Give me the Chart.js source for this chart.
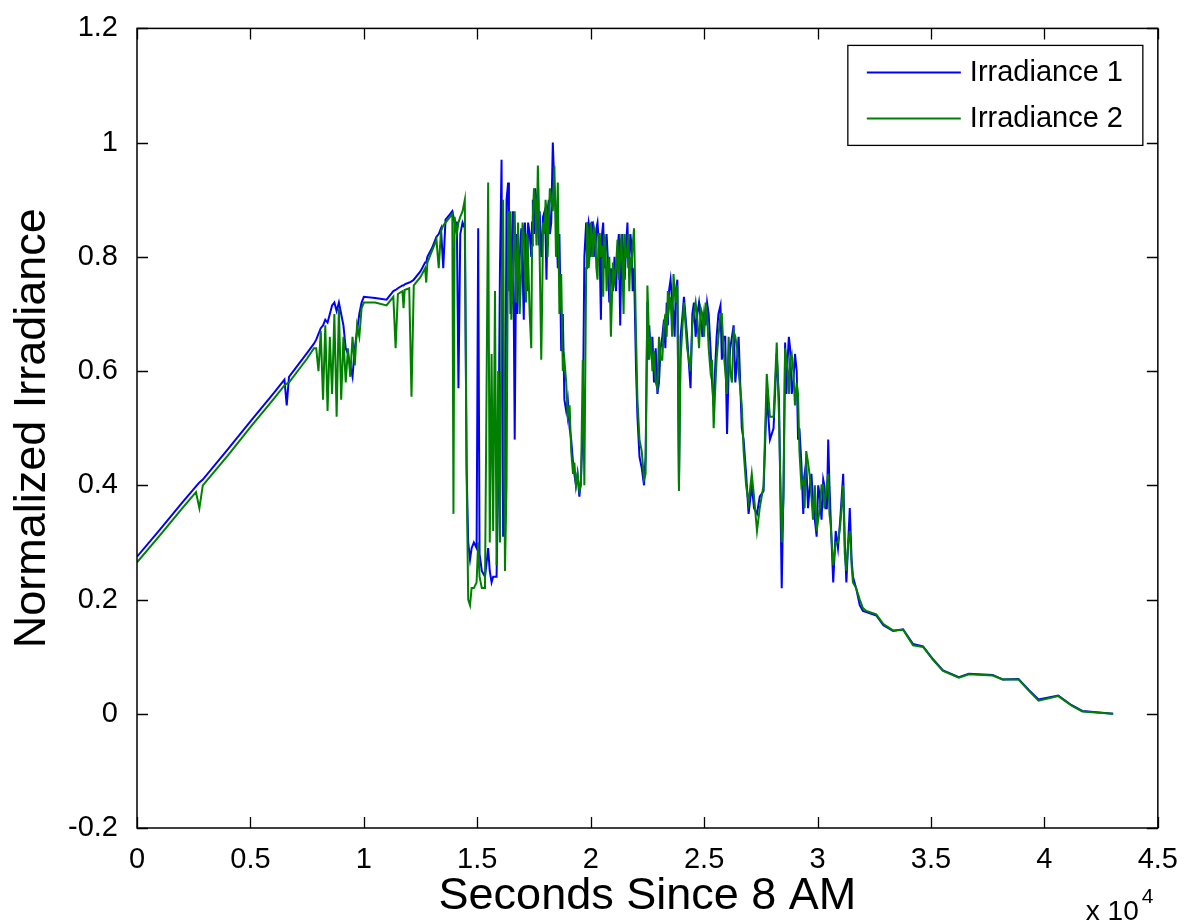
<!DOCTYPE html>
<html>
<head>
<meta charset="utf-8">
<script src="https://cdn.jsdelivr.net/npm/chart.js@4.4.0/dist/chart.umd.min.js"></script>
<style>
  html, body { margin: 0; padding: 0; background: #fff; }
  #wrap { width: 1185px; height: 924px; position: relative; }
</style>
</head>
<body>
<div id="wrap"><canvas id="graf"></canvas></div>
<script>
// tempo em segundos desde as 8h
var seconds = [
  0, 1000, 2000, 2600, 2750, 2900, 4000, 5000, 6000, 6500, 6600, 6700, 7500, 7800,
  7900, 8000, 8100, 8200, 8300, 8400, 8500, 8600, 8700, 8800, 8900, 9000, 9100, 9200, 9300, 9400, 9500, 9600, 9700, 9800, 9900, 10000,
  10500, 11000, 11300, 11400, 11500, 11700, 11750, 11800, 12000, 12100, 12200, 12500, 12700, 12750, 12800, 13000, 13200, 13300, 13400, 13500, 13600, 13800,
  13900, 13950, 14000, 14100, 14170, 14250, 14350, 14450, 14530, 14600,
  14680, 14750, 14850, 14970, 15040, 15100, 15200, 15340, 15480, 15550,
  15630, 15700, 15780, 15850, 15920, 16000, 16070, 16140, 16220, 16290,
  16360, 16395, 16430, 16465, 16500, 16575, 16650, 16720, 16760, 16800,
  16870, 16940, 16995, 17050, 17100, 17150, 17195, 17240, 17310, 17380,
  17415, 17450, 17500, 17550, 17610, 17670, 17710, 17750, 17820, 17860,
  17900, 17970, 18010, 18050, 18100, 18150, 18200, 18260, 18330, 18400,
  18470, 18550, 18620, 18700, 18770, 18840, 18920, 18990, 19070, 19140,
  19220, 19280, 19350, 19420, 19500, 19570, 19650, 19720, 19800, 19835,
  19870, 19910, 19950, 20000, 20050, 20100, 20150, 20200, 20250, 20300,
  20350, 20400, 20450, 20500, 20550, 20600, 20650, 20700, 20750, 20820,
  20890, 20980, 21050, 21115, 21180, 21240, 21300, 21350, 21400, 21450,
  21500, 21560, 21620, 21660, 21700, 21750, 21800, 21850, 21910, 22000,
  22060, 22150, 22250, 22350, 22420, 22500, 22540, 22580, 22650, 22720,
  22790, 22865, 22940, 23010, 23080, 23155, 23230, 23290, 23350, 23400,
  23450, 23520, 23590, 23650, 23700, 23750, 23820, 23890, 23960, 24050,
  24110, 24250, 24400, 24480, 24550, 24625, 24700, 24775, 24850, 24925,
  25000, 25065, 25130, 25200, 25280, 25350, 25420, 25480, 25550, 25630,
  25720, 25780, 25850, 25930, 26010, 26080, 26150, 26225, 26300, 26375,
  26450, 26520, 26590, 26660, 26740, 26850, 26960, 27100, 27200, 27330,
  27450, 27620, 27760, 27900, 28060, 28200, 28300, 28420, 28500, 28570,
  28625, 28680, 28735, 28790, 28860, 28930, 29005, 29080, 29140, 29200,
  29285, 29370, 29430, 29500, 29580, 29660, 29730, 29800, 29880, 29960,
  30030, 30100, 30175, 30250, 30300, 30350, 30410, 30470, 30525, 30580,
  30690, 30800, 30900, 31000, 31130, 31200, 31270, 31350, 31420, 31500,
  31560, 31700, 31860, 32000,
  32150, 32590, 32900, 33330, 33770, 34210, 34650, 35100, 35530, 36230,
  36670, 37720, 38160, 38860, 39300, 39740, 40610, 41200, 41670, 43030
];

var irradiance1 = [
  0.275, 0.322, 0.37, 0.398, 0.405, 0.41, 0.463, 0.512, 0.56, 0.585, 0.54, 0.59, 0.632, 0.648,
  0.655, 0.665, 0.675, 0.68, 0.69, 0.685, 0.70, 0.715, 0.72, 0.705, 0.72, 0.70, 0.68, 0.64, 0.63, 0.61, 0.59, 0.64, 0.67, 0.70, 0.72, 0.73,
  0.728, 0.725, 0.74, 0.742, 0.745, 0.75, 0.75, 0.752, 0.755, 0.757, 0.76, 0.775, 0.79, 0.79, 0.80, 0.815, 0.835, 0.84, 0.85, 0.78, 0.865, 0.875,
  0.88, 0.87, 0.86, 0.86, 0.57, 0.84, 0.86, 0.85, 0.43, 0.30,
  0.27, 0.29, 0.30, 0.29, 0.85, 0.28, 0.25, 0.24, 0.29, 0.25,
  0.23, 0.24, 0.24, 0.24, 0.40, 0.78, 0.97, 0.31, 0.35, 0.90,
  0.93, 0.86, 0.85, 0.70, 0.80, 0.88, 0.48, 0.84, 0.70, 0.75,
  0.80, 0.85, 0.78, 0.69, 0.86, 0.82, 0.74, 0.86, 0.84, 0.80,
  0.86, 0.90, 0.84, 0.92, 0.90, 0.86, 0.82, 0.88, 0.80, 0.82,
  0.87, 0.88, 0.84, 0.76, 0.88, 0.90, 0.84, 0.86, 1.00, 0.92,
  0.88, 0.78, 0.84, 0.635, 0.70, 0.55, 0.53, 0.55, 0.50, 0.48,
  0.44, 0.42, 0.40, 0.42, 0.38, 0.41, 0.50, 0.80, 0.86, 0.80,
  0.84, 0.86, 0.85, 0.80, 0.86, 0.86, 0.82, 0.80, 0.85, 0.86,
  0.83, 0.80, 0.69, 0.84, 0.86, 0.78, 0.82, 0.84, 0.80, 0.72,
  0.78, 0.74, 0.80, 0.74, 0.81, 0.84, 0.68, 0.80, 0.84, 0.78,
  0.76, 0.82, 0.86, 0.78, 0.80, 0.84, 0.82, 0.74, 0.78, 0.60,
  0.52, 0.45, 0.43, 0.40, 0.45, 0.72, 0.62, 0.68, 0.63, 0.66,
  0.58, 0.64, 0.56, 0.58, 0.64, 0.66, 0.69, 0.64, 0.72, 0.68,
  0.74, 0.76, 0.72, 0.70, 0.66, 0.74, 0.76, 0.40, 0.66, 0.70,
  0.73, 0.66, 0.57, 0.70, 0.72, 0.66, 0.70, 0.72, 0.69, 0.66,
  0.70, 0.68, 0.72, 0.70, 0.64, 0.58, 0.54, 0.60, 0.66, 0.70,
  0.715, 0.62, 0.66, 0.66, 0.49, 0.60, 0.64, 0.66, 0.68, 0.58,
  0.62, 0.66, 0.58, 0.50, 0.48, 0.42, 0.35, 0.40, 0.36, 0.35,
  0.38, 0.39, 0.56, 0.48, 0.50, 0.63, 0.55, 0.22, 0.40, 0.65,
  0.56, 0.62, 0.66, 0.64, 0.56, 0.58, 0.63, 0.60, 0.48, 0.50,
  0.44, 0.35, 0.42, 0.44, 0.36, 0.40, 0.42, 0.37, 0.34, 0.31,
  0.40, 0.38, 0.34, 0.41, 0.40, 0.36, 0.36, 0.48, 0.40, 0.34,
  0.23, 0.32, 0.29, 0.34, 0.42, 0.30, 0.23, 0.30, 0.36, 0.27,
  0.24, 0.22, 0.19, 0.18,
  0.178, 0.172, 0.155, 0.145, 0.148, 0.122, 0.118, 0.095, 0.076, 0.064,
  0.07, 0.068, 0.06, 0.061, 0.042, 0.025, 0.032, 0.015, 0.005, 0.0
];

var irradiance2 = [
  0.265, 0.312, 0.36, 0.388, 0.36, 0.40, 0.452, 0.502, 0.55, 0.575, 0.578, 0.58, 0.622, 0.64,
  0.64, 0.60, 0.67, 0.55, 0.68, 0.53, 0.66, 0.56, 0.70, 0.52, 0.71, 0.55, 0.66, 0.58, 0.64, 0.59, 0.66, 0.61, 0.68, 0.66, 0.71, 0.72,
  0.72, 0.715, 0.73, 0.64, 0.735, 0.74, 0.71, 0.742, 0.745, 0.555, 0.75, 0.765, 0.78, 0.755, 0.79, 0.81, 0.83, 0.78, 0.845, 0.855, 0.86, 0.87,
  0.875, 0.35, 0.87, 0.84, 0.86, 0.87, 0.88, 0.90, 0.42, 0.20,
  0.19, 0.22, 0.22, 0.23, 0.30, 0.24, 0.22, 0.22, 0.93, 0.30,
  0.63, 0.32, 0.74, 0.26, 0.60, 0.30, 0.72, 0.90, 0.25, 0.40,
  0.88, 0.74, 0.84, 0.88, 0.69, 0.76, 0.88, 0.72, 0.78, 0.86,
  0.70, 0.78, 0.86, 0.84, 0.76, 0.72, 0.84, 0.80, 0.70, 0.64,
  0.82, 0.87, 0.92, 0.90, 0.82, 0.96, 0.90, 0.80, 0.62, 0.72,
  0.86, 0.84, 0.90, 0.88, 0.80, 0.86, 0.92, 0.90, 0.88, 0.96,
  0.80, 0.93, 0.70, 0.77, 0.60, 0.62, 0.58, 0.52, 0.54, 0.46,
  0.42, 0.44, 0.40, 0.42, 0.39, 0.40, 0.62, 0.40, 0.78, 0.86,
  0.85, 0.78, 0.80, 0.86, 0.84, 0.80, 0.85, 0.84, 0.78, 0.76,
  0.84, 0.84, 0.80, 0.82, 0.73, 0.84, 0.82, 0.74, 0.78, 0.80,
  0.66, 0.79, 0.76, 0.78, 0.83, 0.76, 0.80, 0.84, 0.78, 0.70,
  0.84, 0.80, 0.80, 0.84, 0.74, 0.80, 0.78, 0.82, 0.85, 0.66,
  0.55, 0.48, 0.46, 0.41, 0.42, 0.75, 0.70, 0.62, 0.66, 0.60,
  0.635, 0.58, 0.57, 0.66, 0.62, 0.62, 0.68, 0.70, 0.66, 0.74,
  0.71, 0.73, 0.66, 0.77, 0.74, 0.72, 0.75, 0.39, 0.62, 0.68,
  0.72, 0.64, 0.60, 0.68, 0.70, 0.72, 0.69, 0.64, 0.71, 0.70,
  0.66, 0.72, 0.70, 0.64, 0.60, 0.62, 0.50, 0.56, 0.62, 0.66,
  0.70, 0.70, 0.64, 0.60, 0.56, 0.66, 0.60, 0.58, 0.67, 0.66,
  0.64, 0.60, 0.57, 0.54, 0.46, 0.40, 0.37, 0.42, 0.38, 0.32,
  0.36, 0.40, 0.595, 0.52, 0.52, 0.65, 0.52, 0.30, 0.38, 0.64,
  0.62, 0.60, 0.56, 0.62, 0.63, 0.60, 0.54, 0.58, 0.56, 0.46,
  0.40, 0.41, 0.36, 0.46, 0.44, 0.415, 0.38, 0.34, 0.40, 0.32,
  0.34, 0.36, 0.40, 0.40, 0.36, 0.38, 0.40, 0.42, 0.35, 0.33,
  0.26, 0.30, 0.30, 0.33, 0.40, 0.28, 0.25, 0.30, 0.32, 0.26,
  0.23, 0.22, 0.20, 0.185,
  0.18, 0.174, 0.157, 0.146, 0.147, 0.12, 0.117, 0.094, 0.075, 0.063,
  0.069, 0.067, 0.06, 0.06, 0.041, 0.023, 0.031, 0.014, 0.004, 0.0
];

var seriesNames = ['Irradiance 1', 'Irradiance 2'];
var xTickLabels = ['0', '0.5', '1', '1.5', '2', '2.5', '3', '3.5', '4', '4.5'];
var yTickLabels = ['-0.2', '0', '0.2', '0.4', '0.6', '0.8', '1', '1.2'];

var fonte = "'Liberation Sans', Arial, sans-serif";

function pontos(valores) {
  var out = [];
  for (var i = 0; i < seconds.length; i++) {
    out.push({ x: seconds[i], y: valores[i] });
  }
  return out;
}

// caixa do eixo, ticks para dentro, legenda e "x 10^4" no estilo matlab
var caixaMatlab = {
  id: 'caixaMatlab',
  afterDatasetsDraw: function (chart) {
    var ctx = chart.ctx;
    var a = chart.chartArea;
    var xs = chart.scales.x;
    var ys = chart.scales.y;
    ctx.save();
    ctx.strokeStyle = '#000';
    ctx.lineWidth = 1.5;
    ctx.strokeRect(a.left, a.top, a.right - a.left, a.bottom - a.top);

    ctx.beginPath();
    xs.ticks.forEach(function (t) {
      var px = Math.round(xs.getPixelForValue(t.value)) + 0.5;
      ctx.moveTo(px, a.bottom); ctx.lineTo(px, a.bottom - 11);
      ctx.moveTo(px, a.top); ctx.lineTo(px, a.top + 11);
    });
    ys.ticks.forEach(function (t) {
      var py = Math.round(ys.getPixelForValue(t.value)) + 0.5;
      ctx.moveTo(a.left, py); ctx.lineTo(a.left + 11, py);
      ctx.moveTo(a.right, py); ctx.lineTo(a.right - 11, py);
    });
    ctx.lineWidth = 1.3;
    ctx.stroke();

    // expoente do eixo x
    ctx.fillStyle = '#000';
    ctx.textBaseline = 'alphabetic';
    ctx.textAlign = 'left';
    ctx.font = '28px ' + fonte;
    ctx.fillText('x 10', a.right - 72, a.bottom + 92);
    ctx.font = '21px ' + fonte;
    ctx.fillText('4', a.right - 16, a.bottom + 75);

    // legenda
    var lx = a.right - 310, ly = a.top + 17, lw = 295, lh = 100;
    ctx.fillStyle = '#fff';
    ctx.fillRect(lx, ly, lw, lh);
    ctx.lineWidth = 1.3;
    ctx.strokeRect(lx, ly, lw, lh);
    ctx.font = '29px ' + fonte;
    ctx.textBaseline = 'middle';
    chart.data.datasets.forEach(function (ds, i) {
      var yy = ly + 27 + i * 46;
      ctx.strokeStyle = ds.borderColor;
      ctx.lineWidth = 2;
      ctx.beginPath();
      ctx.moveTo(lx + 19, yy);
      ctx.lineTo(lx + 113, yy);
      ctx.stroke();
      ctx.fillStyle = '#000';
      ctx.fillText(ds.label, lx + 122, yy + 1);
    });
    ctx.restore();
  }
};

var graf = new Chart(document.getElementById('graf'), {
  type: 'line',
  data: {
    datasets: [{
      label: seriesNames[0],
      data: pontos(irradiance1),
      borderColor: '#0000ff',
      borderWidth: 2,
      pointRadius: 0,
      tension: 0,
      order: 1
    }, {
      label: seriesNames[1],
      data: pontos(irradiance2),
      borderColor: '#008000',
      borderWidth: 2,
      pointRadius: 0,
      tension: 0,
      order: 0
    }]
  },
  options: {
    responsive: true,
    maintainAspectRatio: false,
    animation: false,
    layout: { padding: { top: 20, right: 22, left: 0, bottom: 0 } },
    plugins: {
      legend: { display: false },
      tooltip: { enabled: false }
    },
    scales: {
      x: {
        type: 'linear',
        min: 0,
        max: 45000,
        grid: { display: false },
        border: { display: false },
        ticks: {
          stepSize: 5000,
          padding: 7,
          color: '#000',
          font: { family: fonte, size: 29 },
          maxRotation: 0,
          callback: function (v, i) { return xTickLabels[i]; }
        },
        title: {
          display: true,
          text: 'Seconds Since 8 AM',
          color: '#000',
          font: { family: fonte, size: 45 },
          padding: { top: 0, bottom: 0 }
        },
        afterFit: function (s) { s.height = 96; }
      },
      y: {
        type: 'linear',
        min: -0.2,
        max: 1.2,
        grid: { display: false },
        border: { display: false },
        ticks: {
          stepSize: 0.2,
          padding: 11,
          color: '#000',
          font: { family: fonte, size: 29 },
          callback: function (v, i) { return yTickLabels[i]; }
        },
        title: {
          display: true,
          text: 'Normalized Irradiance',
          color: '#000',
          font: { family: fonte, size: 45 },
          padding: { top: 6, bottom: 0 }
        },
        afterFit: function (s) { s.width = 137; }
      }
    }
  },
  plugins: [caixaMatlab]
});
</script>
</body>
</html>
